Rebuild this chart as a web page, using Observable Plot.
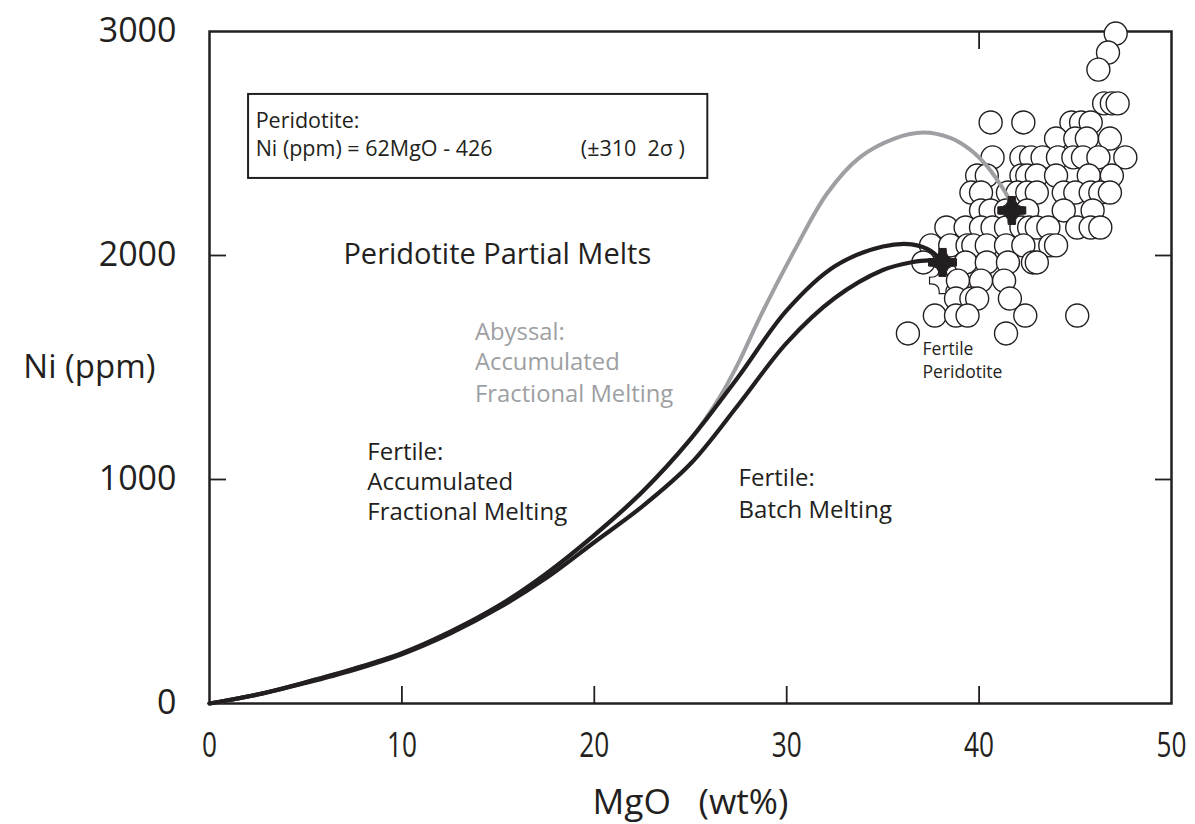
<!DOCTYPE html>
<html><head><meta charset="utf-8">
<script src="https://cdn.jsdelivr.net/npm/d3@7"></script>
<script src="https://cdn.jsdelivr.net/npm/@observablehq/plot@0.6"></script>
<style>
body{margin:0;background:#fff}
#chart svg{display:block}
</style>
</head><body><div id="chart"></div>
<script>
// ---- axis ticks ----
const xTicks = [0, 10, 20, 30, 40, 50];
const yTicks = [0, 1000, 2000, 3000];
const xInnerTicksBottom = [10, 20, 30, 40];
const xInnerTicksTop = [40];
const yInnerTicks = [1000, 2000];

// ---- peridotite samples (MgO wt%, Ni ppm) ----
const sampleMgO = [
  47.1, 46.7, 46.2,
  46.5, 46.9, 47.2,
  40.6, 42.3, 44.8, 45.3, 45.8,
  44.0, 45.0, 45.6, 46.8,
  40.7, 42.2, 42.7, 43.3, 44.1, 44.9, 45.4, 46.2, 47.6,
  39.9, 40.4, 42.2, 42.5, 43.0, 44.0, 45.7, 46.9,
  39.6, 40.1, 41.5, 42.0, 42.5, 43.0, 44.4, 45.0, 45.8, 46.3, 46.8,
  40.1, 40.6, 41.4, 42.5, 44.4, 45.9,
  38.3, 39.3, 40.1, 40.7, 41.4, 42.2, 42.6, 43.0, 43.6, 45.1, 45.8, 46.3,
  37.5, 38.5, 39.4, 39.7, 40.4, 41.4, 42.3, 43.7, 44.0,
  37.1, 39.3, 40.4, 41.5, 42.8, 43.0,
  38.9, 40.1, 41.3,
  38.8, 39.6, 39.9, 41.6,
  37.7, 38.8, 39.4, 42.4, 45.1,
  36.3, 41.4
];
const sampleNi = [
  2991, 2906, 2830,
  2679, 2679, 2679,
  2594, 2594, 2594, 2594, 2594,
  2522, 2522, 2522, 2522,
  2438, 2438, 2438, 2438, 2438, 2438, 2438, 2438, 2438,
  2357, 2357, 2357, 2357, 2357, 2357, 2357, 2357,
  2281, 2281, 2281, 2281, 2281, 2281, 2281, 2281, 2281, 2281, 2281,
  2201, 2201, 2201, 2201, 2201, 2201,
  2125, 2125, 2125, 2125, 2125, 2125, 2125, 2125, 2125, 2125, 2125, 2125,
  2045, 2045, 2045, 2045, 2045, 2045, 2045, 2045, 2045,
  1969, 1969, 1969, 1969, 1969, 1969,
  1888, 1888, 1888,
  1808, 1808, 1808, 1808,
  1732, 1732, 1732, 1732, 1732,
  1652, 1652
];

// ---- melting model curves ----
const abyssalAFM_MgO = [0, 2.5, 5, 7.5, 10, 12.5, 15, 17.5, 20, 22.5, 25, 26.5, 27.5, 28.6, 30.4, 32.1, 33.8, 35.6, 37.1, 38.5, 39.5, 40.3, 41.0, 41.5, 41.7];
const abyssalAFM_Ni  = [0, 40, 95, 155, 225, 320, 435, 580, 750, 945, 1180, 1365, 1522, 1723, 2022, 2277, 2438, 2522, 2549, 2525, 2475, 2410, 2330, 2260, 2201];
const fertileAFM_MgO = [0, 2.5, 5, 7.5, 10, 12.5, 15, 17.5, 20, 22.5, 25, 27.5, 30, 32.5, 35, 36.5, 37.5, 38.1];
const fertileAFM_Ni  = [0, 40, 95, 155, 225, 320, 435, 580, 752, 945, 1180, 1460, 1755, 1952, 2040, 2050, 2020, 1969];
const fertileBatch_MgO = [0, 2.5, 5, 7.5, 10, 12.5, 15, 17.5, 20, 22.5, 25, 27.5, 30, 32.5, 35, 36.5, 37.5, 38.1];
const fertileBatch_Ni  = [0, 40, 92, 150, 220, 312, 425, 560, 720, 880, 1070, 1335, 1610, 1810, 1935, 1970, 1978, 1969];

// ---- starting compositions (stars) ----
const starMgO = [41.7, 38.1];
const starNi = [2201, 1969];
const hiddenStarMgO = [38.1];
const hiddenStarNi = [1888];

// ---- annotations ----
const boxCorners = [{x1: 2.03, x2: 25.9, y1: 2344, y2: 2719}];
const boxLines = ["Peridotite:", "Ni (ppm) = 62MgO - 426", "(\u00b1310\u00a0\u00a02\u03c3\u00a0)"];
const boxLineX = [2.4, 2.4, 19.3];
const boxLineY = [2571, 2446, 2446];
const titleText = ["Peridotite Partial Melts"];
const titleX = [6.96], titleY = [1964];
const abyssalLines = ["Abyssal:", "Accumulated", "Fractional Melting"];
const abyssalX = [13.8, 13.8, 13.8], abyssalY = [1625, 1487, 1348];
const fertAFMLines = ["Fertile:", "Accumulated", "Fractional Melting"];
const fertAFMX = [8.2, 8.2, 8.2], fertAFMY = [1085, 951, 817];
const fertBatchLines = ["Fertile:", "Batch Melting"];
const fertBatchX = [27.5, 27.5], fertBatchY = [969, 826];
const fertPerLines = ["Fertile", "Peridotite"];
const fertPerX = [37.06, 37.06], fertPerY = [1554, 1455];

const ink = "#231f20";
const gray = "#9d9fa2";
const font = "'Open Sans', 'Noto Sans', sans-serif";

const samples = sampleMgO.map((x, i) => ({x, y: sampleNi[i]}));
const zip = (xs, ys) => xs.map((x, i) => ({x, y: ys[i]}));
const zipText = (ts, xs, ys) => ts.map((t, i) => ({t, x: xs[i], y: ys[i]}));

const star4 = {
  draw(ctx, size) {
    const r = Math.sqrt(size / Math.PI);
    const a = r * 0.26, c = r * 0.2;
    ctx.moveTo(-a, -r); ctx.lineTo(a, -r);
    ctx.quadraticCurveTo(c, -c, r, -a); ctx.lineTo(r, a);
    ctx.quadraticCurveTo(c, c, a, r); ctx.lineTo(-a, r);
    ctx.quadraticCurveTo(-c, c, -r, a); ctx.lineTo(-r, -a);
    ctx.quadraticCurveTo(-c, -c, -a, -r); ctx.closePath();
  }
};

function txt(rows, opts) {
  return Plot.text(rows, {x: "x", y: "y", text: "t", textAnchor: "start", lineAnchor: "bottom", fontFamily: font, ...opts});
}

const plot = Plot.plot({
  width: 1195,
  height: 824,
  marginLeft: 209,
  marginRight: 24,
  marginTop: 31,
  marginBottom: 121,
  style: {background: "#fff", color: ink, fontFamily: font},
  x: {domain: [0, 50], ticks: xTicks},
  y: {domain: [0, 3000], ticks: yTicks},
  marks: [
    Plot.frame({stroke: ink, strokeWidth: 2.5}),
    // inward ticks
    Plot.axisX({ticks: xInnerTicksBottom, anchor: "bottom", tickSize: -17, strokeWidth: 1.8, tickFormat: () => "", label: null}),
    Plot.axisX({ticks: xInnerTicksTop, anchor: "top", tickSize: -17, strokeWidth: 1.8, tickFormat: () => "", label: null}),
    Plot.axisY({ticks: yInnerTicks, anchor: "left", tickSize: -17, strokeWidth: 1.8, tickFormat: () => "", label: null}),
    Plot.axisY({ticks: yInnerTicks, anchor: "right", tickSize: -17, strokeWidth: 1.8, tickFormat: () => "", label: null}),
    // tick labels
    Plot.axisX({ticks: xTicks, anchor: "bottom", tickSize: 0, tickPadding: 29, fontSize: 35, fontFamily: font, tickFormat: d => String(d), label: null}),
    Plot.axisY({ticks: yTicks, anchor: "left", tickSize: 0, tickPadding: 33, fontSize: 34, fontFamily: font, tickFormat: d => String(d), label: null}),
    Plot.text(["Ni (ppm)"], {frameAnchor: "left", textAnchor: "end", dx: -54, fontSize: 33, fontFamily: font, fill: ink}),
    Plot.text(["MgO\u00a0\u00a0\u00a0(wt%)"], {frameAnchor: "bottom", lineAnchor: "middle", dy: 100, fontSize: 34, fontFamily: font, fill: ink}),
    // equation box
    Plot.rect(boxCorners, {x1: "x1", x2: "x2", y1: "y1", y2: "y2", fill: "white", stroke: ink, strokeWidth: 2}),
    txt(zipText(boxLines, boxLineX, boxLineY), {fontSize: 21.5, fill: ink}),
    txt(zipText(titleText, titleX, titleY), {fontSize: 29, fill: ink}),
    txt(zipText(abyssalLines, abyssalX, abyssalY), {fontSize: 23.8, fill: gray}),
    txt(zipText(fertAFMLines, fertAFMX, fertAFMY), {fontSize: 24, fill: ink}),
    txt(zipText(fertBatchLines, fertBatchX, fertBatchY), {fontSize: 24, fill: ink}),
    txt(zipText(fertPerLines, fertPerX, fertPerY), {fontSize: 17.5, fill: ink}),
    // samples
    Plot.dot(zip(hiddenStarMgO, hiddenStarNi), {x: "x", y: "y", r: 13, symbol: star4, fill: "white", stroke: ink, strokeWidth: 1.2}),
    Plot.dot(samples, {x: "x", y: "y", r: 11.5, fill: "white", stroke: ink, strokeWidth: 1.4}),
    // curves
    Plot.line(zip(abyssalAFM_MgO, abyssalAFM_Ni), {x: "x", y: "y", curve: "catmull-rom", stroke: gray, strokeWidth: 4}),
    Plot.line(zip(fertileAFM_MgO, fertileAFM_Ni), {x: "x", y: "y", curve: "catmull-rom", stroke: ink, strokeWidth: 4.2}),
    Plot.line(zip(fertileBatch_MgO, fertileBatch_Ni), {x: "x", y: "y", curve: "catmull-rom", stroke: ink, strokeWidth: 4.2}),
    // starting compositions
    Plot.dot(zip(starMgO, starNi), {x: "x", y: "y", r: 14, symbol: star4, fill: ink, stroke: ink, strokeWidth: 1})
  ]
});
document.getElementById("chart").appendChild(plot);

// condensed look for x tick labels and x-axis title (reference uses a condensed face)
d3.select(plot).selectAll("text").each(function () {
  const s = this.textContent;
  if (/^\d+$/.test(s) && this.closest('g[aria-label="x-axis tick label"]')) {
    this.setAttribute("textLength", s.length * 15);
    this.setAttribute("lengthAdjust", "spacingAndGlyphs");
  } else if (s.startsWith("MgO")) {
    this.setAttribute("textLength", 196);
    this.setAttribute("lengthAdjust", "spacingAndGlyphs");
  }
});
</script>
</body></html>
